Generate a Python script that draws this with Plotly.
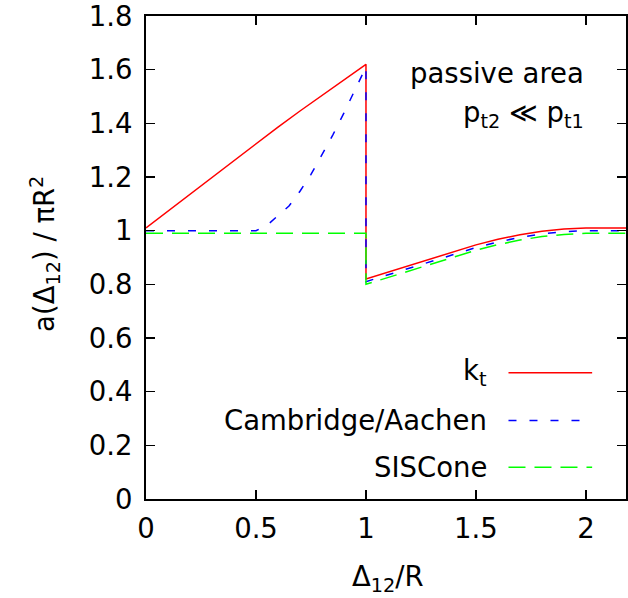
import plotly.graph_objects as go

# ---- data ----
kt_x = [0.0, 0.1, 0.2, 0.3, 0.4, 0.5, 0.6, 0.7, 0.8, 0.9, 1.0,
        1.0, 1.1, 1.2, 1.3, 1.4, 1.5, 1.6, 1.7, 1.8, 1.9, 2.0, 2.2]
kt_y = [1.01, 1.073, 1.137, 1.200, 1.263, 1.325, 1.386, 1.446, 1.505, 1.563, 1.620,
        0.820, 0.845, 0.871, 0.897, 0.922, 0.947, 0.968, 0.985, 0.998, 1.006, 1.010, 1.010]

ca_x = [0.0, 0.5, 0.55, 0.6, 0.65, 0.7, 0.75, 0.8, 0.85, 0.9, 0.95, 1.0,
        1.0, 1.1, 1.2, 1.3, 1.4, 1.5, 1.6, 1.7, 1.8, 1.9, 2.0, 2.2]
ca_y = [1.0, 1.0, 1.020, 1.056, 1.092, 1.147, 1.210, 1.283, 1.358, 1.439, 1.523, 1.610,
        0.810, 0.835, 0.861, 0.887, 0.912, 0.937, 0.958, 0.975, 0.988, 0.996, 1.000, 1.000]

sis_x = [0.0, 1.0, 1.0, 1.1, 1.2, 1.3, 1.4, 1.5, 1.6, 1.7, 1.8, 1.9, 2.0, 2.2]
sis_y = [0.99, 0.99, 0.800, 0.825, 0.851, 0.877, 0.902, 0.927, 0.948, 0.965, 0.978, 0.986, 0.990, 0.990]

x_ticks = [0, 0.5, 1, 1.5, 2]
x_tick_labels = ["0", "0.5", "1", "1.5", "2"]
y_ticks = [0, 0.2, 0.4, 0.6, 0.8, 1, 1.2, 1.4, 1.6, 1.8]
y_tick_labels = ["0", "0.2", "0.4", "0.6", "0.8", "1", "1.2", "1.4", "1.6", "1.8"]

series_names = ["k<sub>t</sub>", "Cambridge/Aachen", "SISCone"]
series_colors = ["#ff0000", "#0000ff", "#00ff00"]
series_dash = ["solid", "8px,13px", "17px,9px"]

FONT = "DejaVu Sans, Liberation Sans, Arial, sans-serif"
FS = 27.5

W, H = 628, 598
ML, MR, MT, MB = 146, 0, 13, 99

fig = go.Figure()
for xs, ys, name, col, dash in zip([kt_x, ca_x, sis_x], [kt_y, ca_y, sis_y],
                                   series_names, series_colors, series_dash):
    fig.add_trace(go.Scatter(x=xs, y=ys, mode="lines", name=name,
                             line=dict(color=col, width=1.5, dash=dash),
                             showlegend=False, hoverinfo="skip"))

pw = W - ML - MR
ph = H - MT - MB

def px_x(p):
    return (p - ML) / pw

def px_y(p):
    return (H - MB - p) / ph

# legend (text + sample lines)
leg_rows = [372, 420, 467]
for name, col, dash, yy in zip(series_names, series_colors, series_dash, leg_rows):
    fig.add_annotation(x=px_x(490), y=px_y(yy), xref="paper", yref="paper",
                       text=name, showarrow=False, xanchor="right", yanchor="middle",
                       font=dict(family=FONT, size=FS, color="black"))
    fig.add_shape(type="line", xref="paper", yref="paper",
                  x0=px_x(510), x1=px_x(594), y0=px_y(yy), y1=px_y(yy),
                  line=dict(color=col, width=1.5, dash=dash))

fig.add_annotation(x=px_x(588), y=px_y(70), xref="paper", yref="paper",
                   text="passive area", showarrow=False, xanchor="right", yanchor="middle",
                   font=dict(family=FONT, size=FS, color="black"))
fig.add_annotation(x=px_x(588), y=px_y(112), xref="paper", yref="paper",
                   text="p<sub>t2</sub> \u226a p<sub>t1</sub>", showarrow=False,
                   xanchor="right", yanchor="middle",
                   font=dict(family=FONT, size=FS, color="black"))

# axis titles
fig.add_annotation(x=px_x(44), y=px_y(252), xref="paper", yref="paper",
                   text="a(\u0394<sub>12</sub>) / \u03c0R<sup>2</sup>", showarrow=False,
                   textangle=-90, xanchor="center", yanchor="middle",
                   font=dict(family=FONT, size=FS, color="black"))
fig.add_annotation(x=px_x(389), y=px_y(579), xref="paper", yref="paper",
                   text="\u0394<sub>12</sub>/R", showarrow=False,
                   xanchor="center", yanchor="middle",
                   font=dict(family=FONT, size=FS, color="black"))

x_max = (W - ML) / 220.9

fig.update_layout(
    width=W, height=H,
    margin=dict(l=ML, r=MR, t=MT, b=MB, pad=0),
    paper_bgcolor="white", plot_bgcolor="white",
    font=dict(family=FONT, size=FS, color="black"),
    showlegend=False,
    xaxis=dict(range=[0, x_max], tickvals=x_ticks, ticktext=x_tick_labels,
               ticks="inside", ticklen=9, tickwidth=1.5, tickcolor="black",
               showline=True, linecolor="black", linewidth=2, mirror="ticks",
               showgrid=False, zeroline=False, ticklabelstandoff=4,
               ticklabeloverflow="allow",
               tickfont=dict(family=FONT, size=FS, color="black")),
    yaxis=dict(range=[0, 1.8], tickvals=y_ticks, ticktext=y_tick_labels,
               ticks="inside", ticklen=9, tickwidth=1.5, tickcolor="black",
               showline=True, linecolor="black", linewidth=2, mirror="ticks",
               showgrid=False, zeroline=False, ticklabelstandoff=6,
               ticklabeloverflow="allow",
               tickfont=dict(family=FONT, size=FS, color="black")),
)

fig.write_html("out.html",
               config={"displayModeBar": False, "staticPlot": True},
               post_script="document.body.style.margin='0';document.body.style.overflow='hidden';")
